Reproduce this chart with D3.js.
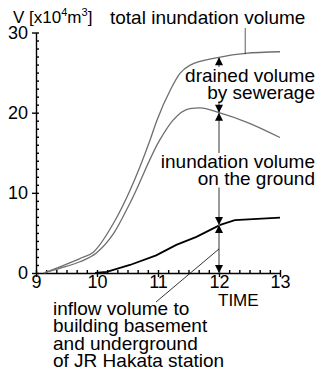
<!DOCTYPE html>
<html>
<head>
<meta charset="utf-8">
<script src="https://cdn.jsdelivr.net/npm/d3@7"></script>
<style>
  body { margin: 0; background: #fff; }
  text { font-family: "Liberation Sans", Arial, sans-serif; fill: #000; }
</style>
</head>
<body>
<div id="chart"></div>
<script>
// values (time in hours, volume in 10^4 m3)
var totalTime = [9.13, 9.4, 9.72, 9.94, 10.27, 10.54, 10.87, 10.98, 11.2, 11.36, 11.52, 12.0, 12.43, 13.0];
var totalVol  = [0, 0.8, 1.8, 2.6, 6.2, 10.3, 16.6, 19.0, 22.8, 24.9, 25.9, 26.9, 27.4, 27.6];

var groundTime = [9.13, 9.4, 9.72, 9.99, 10.27, 10.54, 11.03, 11.24, 11.52, 11.69, 12.0, 12.46, 13.0];
var groundVol  = [0, 0.6, 1.4, 2.5, 4.9, 8.7, 16.6, 19.0, 20.5, 20.6, 20.0, 18.8, 16.9];

var inflowTime = [9.97, 10.16, 10.54, 10.97, 11.3, 11.63, 12.02, 12.26, 13.0];
var inflowVol  = [0, 0.15, 1.0, 2.2, 3.5, 4.5, 6.0, 6.6, 6.9];

var xTicks = [9, 10, 11, 12, 13];
var yTicks = [0, 10, 20, 30];

// arrows on the line at 12:00
var markTime = 12;
var arrowLevels = [26.9, 20.0, 6.0, 0];

var W = 320, H = 376;
var svg = d3.select("#chart").append("svg")
  .attr("width", W)
  .attr("height", H);

var x = d3.scaleLinear().domain([9, 13]).range([36, 280]);
var y = d3.scaleLinear().domain([0, 30]).range([273, 32.5]);

// axes
var gy = svg.append("g").attr("transform", "translate(" + x(9) + ",0)");
gy.call(d3.axisRight(y).ticks(30).tickSize(3).tickSizeOuter(0).tickFormat(""));
gy.select(".domain").remove();
gy.append("g").call(d3.axisLeft(y).tickValues(yTicks).tickSize(4).tickSizeOuter(0).tickPadding(4));

var gx = svg.append("g").attr("transform", "translate(0," + y(0) + ")");
gx.call(d3.axisTop(x).tickValues(d3.range(9, 13.01, 1 / 6)).tickSize(3).tickSizeOuter(0).tickFormat(""));
gx.select(".domain").remove();
gx.append("g").call(d3.axisBottom(x).tickValues(xTicks).tickSize(4).tickSizeOuter(0).tickPadding(-1.5).tickFormat(d3.format("d")));

svg.selectAll(".tick text").style("font-size", "18px").style("font-family", "'Liberation Sans', Arial, sans-serif");
svg.selectAll(".domain, .tick line").attr("stroke", "#000").attr("stroke-width", 1.4);

// curves
function series(t, v) { return t.map(function (d, i) { return [d, v[i]]; }); }
var smooth = d3.line().x(function (d) { return x(d[0]); }).y(function (d) { return y(d[1]); }).curve(d3.curveMonotoneX);
var straight = d3.line().x(function (d) { return x(d[0]); }).y(function (d) { return y(d[1]); });

svg.append("path").datum(series(totalTime, totalVol))
  .attr("d", smooth).attr("fill", "none").attr("stroke", "#6e6e6e").attr("stroke-width", 1.3);
svg.append("path").datum(series(groundTime, groundVol))
  .attr("d", smooth).attr("fill", "none").attr("stroke", "#6e6e6e").attr("stroke-width", 1.3);
svg.append("path").datum(series(inflowTime, inflowVol))
  .attr("d", straight).attr("fill", "none").attr("stroke", "#000").attr("stroke-width", 1.8);

// vertical line at 12:00
svg.append("line")
  .attr("x1", x(markTime)).attr("x2", x(markTime))
  .attr("y1", y(arrowLevels[0])).attr("y2", y(0))
  .attr("stroke", "#808080").attr("stroke-width", 1.6);

// leader lines
svg.append("line")
  .attr("x1", x(12.43)).attr("x2", x(12.43))
  .attr("y1", 28).attr("y2", y(27.4) + 1)
  .attr("stroke", "#333").attr("stroke-width", 0.8);
svg.append("line")
  .attr("x1", 156).attr("y1", 302)
  .attr("x2", x(markTime)).attr("y2", y(3.0))
  .attr("stroke", "#000").attr("stroke-width", 0.8);

// text blocks; where one crosses the 12:00 line, blank a thin strip of it
function block(lines, xPos, y0, step, anchor, size, gap) {
  var g = svg.append("g");
  var t = g.append("text").attr("text-anchor", anchor).style("font-size", size + "px");
  lines.forEach(function (s, i) {
    t.append("tspan").attr("x", xPos).attr("y", y0 + i * step).text(s);
  });
  if (gap) {
    var b = t.node().getBBox();
    g.insert("rect", "text")
      .attr("x", x(markTime) - 3).attr("y", b.y + 2)
      .attr("width", 6).attr("height", b.height - 3)
      .attr("fill", "#fff");
  }
  return g;
}

block(["drained volume", "by sewerage"], 315, 82, 16.5, "end", 19, true);
block(["inundation volume", "on the ground"], 315, 168, 16.5, "end", 19, true);
block(["inflow volume to", "building basement", "and underground", "of JR Hakata station"], 53, 315, 17.3, "start", 19, false);

svg.append("text").attr("x", 110).attr("y", 24).style("font-size", "19px").text("total inundation volume");
svg.append("text").attr("x", 218).attr("y", 306).style("font-size", "17px").text("TIME");

var title = svg.append("text").attr("x", 13).attr("y", 23).style("font-size", "17px");
title.append("tspan").text("V [x10");
title.append("tspan").attr("dy", -7).style("font-size", "11px").text("4");
title.append("tspan").attr("dy", 7).text("m");
title.append("tspan").attr("dy", -7).style("font-size", "11px").text("3");
title.append("tspan").attr("dy", 7).text("]");

// arrowheads: tips touch the level, up = below the level pointing up
function arrow(level, up) {
  var h = 8;
  var cy = up ? y(level) + h / 2 : y(level) - h / 2;
  svg.append("path")
    .attr("d", "M0," + (-h / 2) + "L4," + (h / 2) + "L-4," + (h / 2) + "Z")
    .attr("transform", "translate(" + x(markTime) + "," + cy + ")" + (up ? "" : " rotate(180)"))
    .attr("fill", "#000");
}
arrowLevels.forEach(function (lv, i) {
  if (i > 0) arrow(lv, false);
  if (lv > 0) arrow(lv, true);
});
</script>
</body>
</html>
